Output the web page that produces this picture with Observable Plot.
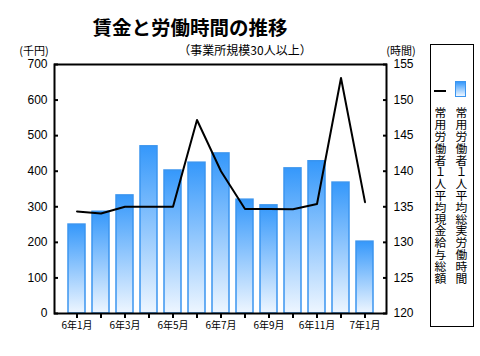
<!DOCTYPE html>
<html><head><meta charset="utf-8">
<script src="https://cdn.jsdelivr.net/npm/d3@7"></script>
<script src="https://cdn.jsdelivr.net/npm/@observablehq/plot@0.6"></script>
<style>
body{margin:0;background:#fff;}
#wrap{position:relative;width:480px;height:356px;overflow:hidden;font-family:"Noto Sans CJK JP",sans-serif;color:#000;}
.t{position:absolute;white-space:nowrap;line-height:1;}
.v{position:absolute;writing-mode:vertical-rl;font-size:11.8px;line-height:1;letter-spacing:0;white-space:nowrap;}
#chart{position:absolute;left:0;top:0;}
</style></head><body><div id="wrap">
<div id="chart"></div>
<div class="t" style="left:190px;top:17px;transform:translateX(-50%);font-size:19.5px;font-weight:bold;">賃金と労働時間の推移</div>
<div class="t" style="left:245px;top:44px;transform:translateX(-50%);font-size:12px;">（事業所規模30人以上）</div>
<div class="t" style="left:34px;top:45px;transform:translateX(-50%);font-size:11px;">(千円)</div>
<div class="t" style="left:401px;top:45px;transform:translateX(-50%);font-size:11px;">(時間)</div>
<div style="position:absolute;left:430px;top:44px;width:42px;height:281px;border:1px solid #000;"></div>
<div style="position:absolute;left:434px;top:90px;width:12px;height:2px;background:#000;"></div>
<div style="position:absolute;left:455px;top:81px;width:9px;height:14px;border:1px solid #3b95ef;background:linear-gradient(#3598fb,#eef6ff);"></div>
<div class="v" style="left:434px;top:107px;">常用労働者１人平均現金給与総額</div>
<div class="v" style="left:455px;top:107px;">常用労働者１人平均総実労働時間</div>
</div>
<script>
const months = ["6年1月","6年2月","6年3月","6年4月","6年5月","6年6月","6年7月","6年8月","6年9月","6年10月","6年11月","6年12月","7年1月"];
// 常用労働者1人平均総実労働時間 (時間, right axis)
const hours = [132.5, 134.3, 136.6, 143.5, 140.1, 141.2, 142.5, 136.0, 135.2, 140.4, 141.4, 138.4, 130.1];
// 常用労働者1人平均現金給与総額 (千円, left axis)
const wages = [287, 281, 300, 300, 300, 544, 400, 294, 294, 293, 308, 662, 313];
const leftTicks = [0, 100, 200, 300, 400, 500, 600, 700];
const rightTicks = [120, 125, 130, 135, 140, 145, 150, 155];

const toY = h => (h - 120) * 20; // map hours onto the left (千円) scale
const data = months.map((m, i) => ({m, hy: toY(hours[i]), w: wages[i]}));

const defs = () => {
  const g = d3.create("svg:defs");
  const lg = g.append("linearGradient").attr("id", "barGrad").attr("x1", 0).attr("y1", 0).attr("x2", 0).attr("y2", 1);
  lg.append("stop").attr("offset", "0%").attr("stop-color", "#3598fb");
  lg.append("stop").attr("offset", "100%").attr("stop-color", "#eef6ff");
  return g.node();
};

const plot = Plot.plot({
  width: 480, height: 356,
  marginTop: 64, marginBottom: 43, marginLeft: 54, marginRight: 94,
  style: {fontFamily: "'Liberation Sans', Arial, sans-serif", fontSize: "12px", color: "#000", background: "transparent", overflow: "visible"},
  x: {domain: months, paddingInner: 0.3, paddingOuter: 0.5, label: null},
  y: {domain: [0, 700], label: null},
  marks: [
    defs,
    Plot.barY(data, {x: "m", y: "hy", fill: "url(#barGrad)", stroke: "#3b95ef", strokeWidth: 1.5}),
    Plot.lineY(data, {x: "m", y: "w", stroke: "#000", strokeWidth: 2}),
    Plot.frame({stroke: "#000", strokeWidth: 2}),
    Plot.axisY({ticks: leftTicks, tickSize: -4, strokeWidth: 2, tickFormat: () => "", label: null}),
    Plot.axisY({ticks: leftTicks, tickSize: 0, tickPadding: 7, fontSize: 12, label: null}),
    Plot.axisY({anchor: "right", ticks: rightTicks.map(toY), tickSize: -4, strokeWidth: 2, tickFormat: () => "", label: null}),
    Plot.axisY({anchor: "right", ticks: rightTicks.map(toY), tickSize: 0, tickPadding: 7, fontSize: 12, tickFormat: d => String(120 + d / 20), label: null}),
    Plot.axisX({tickSize: 5, tickPadding: 3, strokeWidth: 2, fontSize: 10, fontFamily: "'Noto Sans CJK JP', sans-serif", tickFormat: (d, i) => (i % 2 === 0 ? d : ""), label: null})
  ]
});
document.getElementById("chart").appendChild(plot);
</script>
</body></html>
